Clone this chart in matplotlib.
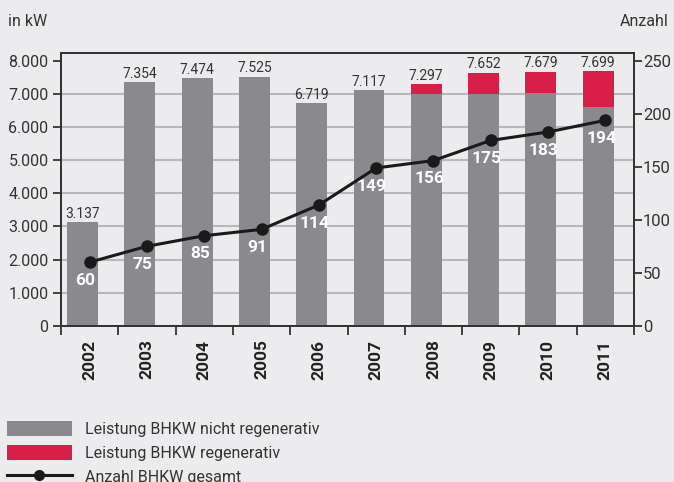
import matplotlib
matplotlib.use('Agg')
import matplotlib.pyplot as plt
import numpy as np
from matplotlib.patches import Patch
from matplotlib.lines import Line2D
from matplotlib.ticker import FuncFormatter, MultipleLocator

plt.rcParams['font.family'] = ['Roboto', 'DejaVu Sans']

years = ['2002', '2003', '2004', '2005', '2006', '2007', '2008', '2009', '2010', '2011']
total_kw = [3137, 7354, 7474, 7525, 6719, 7117, 7297, 7652, 7679, 7699]
regen_kw = [0, 0, 0, 0, 0, 0, 297, 652, 650, 1090]
anzahl = [60, 75, 85, 91, 114, 149, 156, 175, 183, 194]

BG = '#ececee'
GREY = '#8a8a8e'
RED = '#d91e48'
TXT = '#333333'

nicht = np.array(total_kw) - np.array(regen_kw)
x = np.arange(len(years))

fig = plt.figure(figsize=(6.74, 4.82), dpi=100, facecolor=BG)
ax = fig.add_axes([61/674, 1-325.7/482, 573/674, (325.7-53)/482])
ax.set_facecolor(BG)

# bars sit a bit left of slot centre
bx = x - 0.125
bw = 0.54
ax.bar(bx, nicht, width=bw, color=GREY, zorder=2)
ax.bar(bx, regen_kw, width=bw, bottom=nicht, color=RED, zorder=2)
for xi, t in zip(bx, total_kw):
    ax.text(xi, t + 40, f'{t:,}'.replace(',', '.'), ha='center', va='bottom',
            fontsize=10, color=TXT, zorder=3)

ax.set_xlim(-0.5, len(years) - 0.5)
ax.set_ylim(0, 8242)
ax.yaxis.set_major_locator(MultipleLocator(1000))
ax.yaxis.set_major_formatter(FuncFormatter(lambda v, p: f'{int(v):,}'.replace(',', '.')))
for v in range(0, 8000, 1000):
    ax.axhline(v, color='#b8b8ba', lw=1.5, zorder=1)

ax.set_xticks(x)
ax.set_xticklabels(years, rotation=90, fontweight='bold', fontsize=12.5, color='#222222')
ax.set_xticks(np.arange(len(years) + 1) - 0.5, minor=True)
ax.tick_params(axis='x', which='major', length=0, pad=10)
ax.tick_params(axis='x', which='minor', length=6.5, width=1.3, color='#333333', direction='out')
ax.tick_params(axis='y', length=6, width=1.3, color='#333333', pad=3, labelsize=11.5, labelcolor=TXT)
for s in ax.spines.values():
    s.set_color('#333333')
    s.set_linewidth(1.3)

ax2 = ax.twinx()
ax2.set_ylim(0, 257.6)
ax2.yaxis.set_major_locator(MultipleLocator(50))
ax2.tick_params(axis='y', length=5.5, width=1.3, color='#333333', pad=1, labelsize=12, labelcolor=TXT)
for s in ax2.spines.values():
    s.set_color('#333333')
    s.set_linewidth(1.3)
ax2.plot(x, anzahl, color='#1a1a1a', lw=2.2, marker='o', markersize=8, zorder=4)
for xi, n in zip(x, anzahl):
    ax2.annotate(str(n), (xi, n), xytext=(-3, -13), textcoords='offset points',
                 ha='center', va='center', color='white', fontweight='bold', fontsize=12.5)

fig.text(8/674, 1-22/482, 'in kW', ha='left', va='center', fontsize=11.5, color=TXT)
fig.text(669/674, 1-22/482, 'Anzahl', ha='right', va='center', fontsize=11.5, color=TXT)

handles = [Patch(facecolor=GREY, edgecolor='none'),
           Patch(facecolor=RED, edgecolor='none'),
           Line2D([], [], color='#1a1a1a', lw=2.2, marker='o', markersize=7)]
labels = ['Leistung BHKW nicht regenerativ', 'Leistung BHKW regenerativ', 'Anzahl BHKW gesamt']
fig.legend(handles, labels, loc='upper left', bbox_to_anchor=(7/674, 1-421/482),
           frameon=False, fontsize=11.5, handlelength=4.05, handleheight=1.05,
           handletextpad=0.85, labelspacing=0.5, borderpad=0, borderaxespad=0,
           labelcolor=TXT)

fig.savefig('out.png', dpi=100, facecolor=BG)
